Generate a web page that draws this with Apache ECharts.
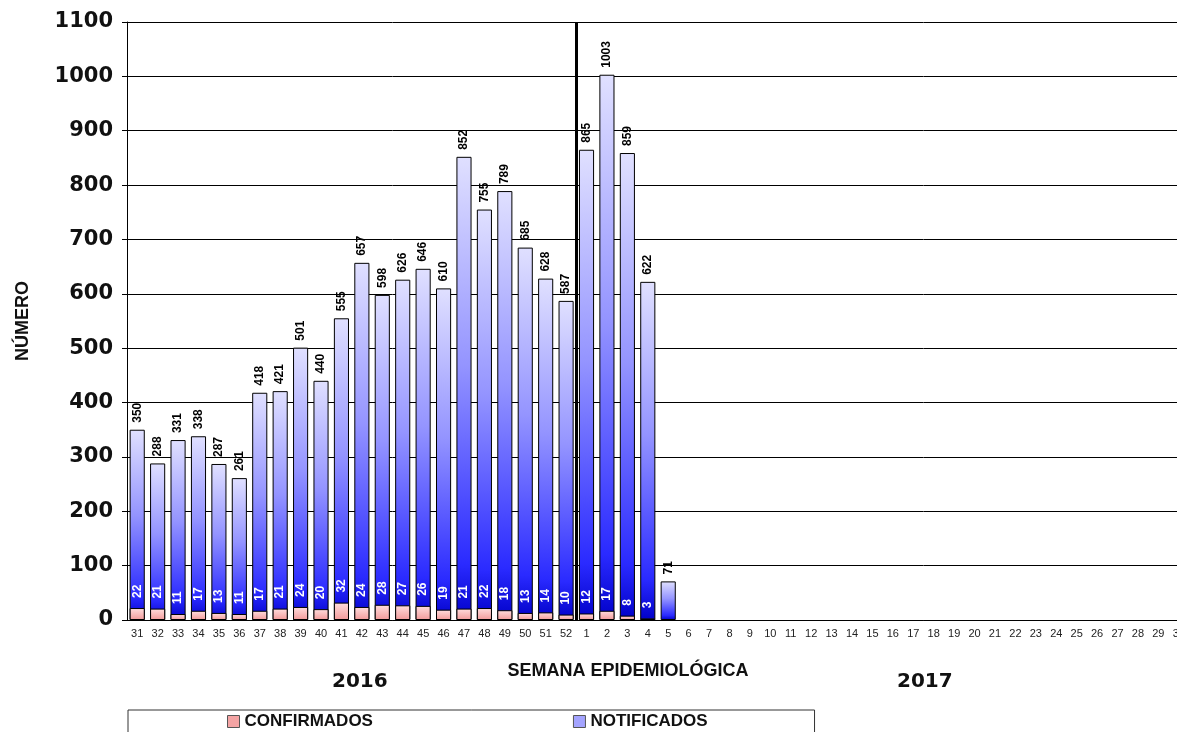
<!DOCTYPE html>
<html>
<head>
<meta charset="utf-8">
<script src="https://cdn.jsdelivr.net/npm/echarts@6/dist/echarts.min.js"></script>
<style>
  html, body { margin: 0; padding: 0; background: #fff; overflow: hidden; }
  #chart { width: 1189px; height: 732px; }
</style>
</head>
<body>
<div id="chart"></div>
<script>
let weeks = ['31','32','33','34','35','36','37','38','39','40','41','42','43','44','45','46','47','48','49','50','51','52',
    '1','2','3','4','5','6','7','8','9','10','11','12','13','14','15','16','17','18','19','20','21','22','23','24','25','26','27','28','29','30'];
let notificados = [350, 288, 331, 338, 287, 261, 418, 421, 501, 440, 555, 657, 598, 626, 646, 610, 852, 755, 789, 685, 628, 587,
    865, 1003, 859, 622, 71];
let confirmados = [22, 21, 11, 17, 13, 11, 17, 21, 24, 20, 32, 24, 28, 27, 26, 19, 21, 22, 18, 13, 14, 10,
    12, 17, 8, 3];
let yearLabels = ['2016', '2017'];
let firstWeek2017 = weeks.indexOf('1');

// only the boundary between week 52 and week 1 gets a visible split line
let yearLineColors = weeks.map(function (w, i) {
    return i === firstWeek2017 ? '#000' : 'rgba(0,0,0,0)';
});

let myChart = echarts.init(document.getElementById('chart'));
let font = 'Arial, "Liberation Sans", sans-serif';
let wideFont = '"DejaVu Sans", Arial, sans-serif';

let option = {
    animation: false,
    textStyle: {fontFamily: font},
    grid: {left: 127, right: 0, top: 22, bottom: 112, containLabel: false},
    legend: {
        left: 128,
        top: 710,
        padding: [3, 107, 8, 99],
        itemGap: 200,
        itemWidth: 12,
        itemHeight: 12,
        icon: 'rect',
        borderColor: '#333',
        borderWidth: 1,
        textStyle: {fontSize: 17, fontWeight: 'bold', color: '#111', fontFamily: font},
        data: [
            {name: 'CONFIRMADOS', itemStyle: {color: '#f4a4a4', borderColor: '#555', borderWidth: 1}},
            {name: 'NOTIFICADOS', itemStyle: {color: '#a4a4ff', borderColor: '#555', borderWidth: 1}}
        ]
    },
    xAxis: {
        type: 'category',
        data: weeks,
        name: 'SEMANA EPIDEMIOLÓGICA',
        nameLocation: 'middle',
        nameGap: 42,
        nameTextStyle: {fontSize: 18, fontWeight: 'bold', color: '#111', padding: [0, 60, 0, 0]},
        axisLine: {lineStyle: {color: '#000'}},
        axisTick: {length: 4, lineStyle: {color: '#000'}},
        axisLabel: {interval: 0, fontSize: 11, color: '#222', margin: 8},
        splitLine: {
            show: true,
            interval: 0,
            lineStyle: {color: yearLineColors, width: 3}
        }
    },
    yAxis: {
        type: 'value',
        min: 0,
        max: 1100,
        interval: 100,
        name: 'NÚMERO',
        nameLocation: 'middle',
        nameGap: 95,
        nameTextStyle: {fontSize: 18, fontWeight: 'bold', color: '#111'},
        axisLine: {show: true, lineStyle: {color: '#000'}},
        axisTick: {show: true, length: 5, lineStyle: {color: '#000'}},
        axisLabel: {
            fontSize: 21, fontWeight: 'bold', color: '#111', margin: 14, fontFamily: wideFont,
            formatter: function (v) { return String(v); }
        },
        splitLine: {lineStyle: {color: '#000', width: 1}}
    },
    series: [
        {
            name: 'NOTIFICADOS',
            type: 'bar',
            data: notificados,
            barCategoryGap: '26%',
            itemStyle: {
                borderColor: '#000',
                borderWidth: 1,
                color: new echarts.graphic.LinearGradient(0, 0, 0, 1, [
                    {offset: 0, color: '#e0e0ff'},
                    {offset: 0.45, color: '#9494ff'},
                    {offset: 0.88, color: '#2a2aff'},
                    {offset: 1, color: '#0000c8'}
                ])
            },
            label: {
                show: true,
                position: 'top',
                rotate: 90,
                align: 'left',
                verticalAlign: 'middle',
                distance: 7,
                fontSize: 12,
                fontWeight: 'bold',
                color: '#000'
            }
        },
        {
            name: 'CONFIRMADOS',
            type: 'bar',
            data: confirmados,
            barGap: '-100%',
            barCategoryGap: '26%',
            itemStyle: {
                borderColor: '#000',
                borderWidth: 1,
                color: new echarts.graphic.LinearGradient(0, 0, 0, 1, [
                    {offset: 0, color: '#ffdede'},
                    {offset: 1, color: '#f29a9a'}
                ])
            },
            label: {
                show: true,
                position: 'top',
                rotate: 90,
                align: 'left',
                verticalAlign: 'middle',
                distance: 10,
                fontSize: 12,
                fontWeight: 'bold',
                color: '#fff'
            }
        }
    ],
    graphic: [
        {type: 'text', left: 332, top: 672, style: {text: yearLabels[0], font: 'bold 20px ' + wideFont, fill: '#111'}},
        {type: 'text', left: 897, top: 672, style: {text: yearLabels[1], font: 'bold 20px ' + wideFont, fill: '#111'}}
    ]
};
myChart.setOption(option);
</script>
</body>
</html>
